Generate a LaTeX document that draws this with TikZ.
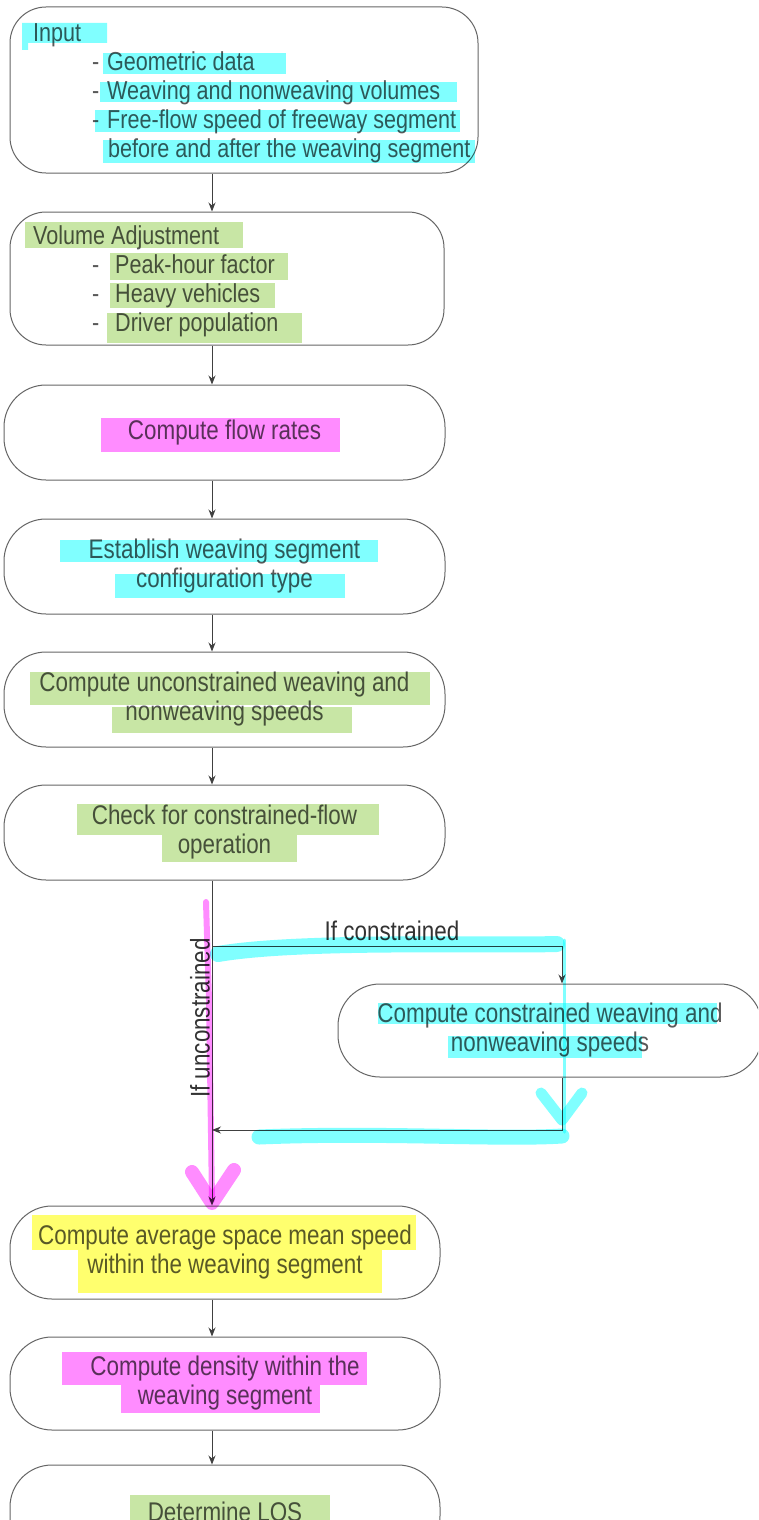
\documentclass[tikz,border=0pt]{standalone}
\usepackage{fontspec}
\setmainfont{Liberation Sans}[FakeStretch=0.83]
\usetikzlibrary{arrows.meta}

\definecolor{hlcyan}{RGB}{128,255,255}
\definecolor{hlgreen}{RGB}{200,230,165}
\definecolor{hlpink}{RGB}{255,140,255}
\definecolor{hlyellow}{RGB}{255,255,110}

\newcommand{\itemA}[1]{\hspace*{59pt}\makebox[15pt][l]{-}#1}
\newcommand{\itemB}[1]{\hspace*{59pt}\makebox[23pt][l]{-}#1}

\tikzset{
  boxtext/.style={text=black!65, font=\fontsize{27}{29}\selectfont},
  stepbox/.style={boxtext, draw=black!60, line width=1pt, rounded corners=42pt,
    minimum width=441pt, minimum height=95pt, align=center, inner sep=0pt},
  listbox/.style={draw=black!60, line width=1pt, rounded corners=36pt, inner sep=0pt},
  listtext/.style={text=black!65, font=\fontsize{26}{29}\selectfont, align=left, anchor=west, inner sep=0pt},
  flowline/.style={draw=black!75, line width=0.9pt},
  flowarrow/.style={flowline, -{Stealth[length=9pt,width=7pt]}},
  hl/.style={blend mode=multiply},
  scribble/.style={line width=#1, line cap=round, line join=round, blend mode=multiply}
}

\begin{document}
\begin{tikzpicture}[x=1pt,y=-1pt]
\clip (0,0) rectangle (758,1520);
\fill[white] (0,0) rectangle (758,1520);

% boxes
\node[listbox, minimum width=468pt, minimum height=166pt] (input) at (244,90) {};
\node[listtext] (inputtext) at (33,93)
  {Input\\ \itemA{Geometric data}\\ \itemA{Weaving and nonweaving volumes}\\
   \itemA{Free-flow speed of freeway segment}\\ \hspace*{75pt}before and after the weaving segment};
\node[listbox, minimum width=434pt, minimum height=133pt] (volume) at (227,278.5) {};
\node[listtext] (volumetext) at (33,281)
  {Volume Adjustment\\ \itemB{Peak-hour factor}\\ \itemB{Heavy vehicles}\\ \itemB{Driver population}};
\node[stepbox] (flow) at (224.5,432.5) {Compute flow rates};
\node[stepbox] (config) at (224.5,566.5) {Establish weaving segment\\ configuration type};
\node[stepbox] (uncon) at (224.5,699.5) {Compute unconstrained weaving and\\ nonweaving speeds};
\node[stepbox] (check) at (224.5,832.5) {Check for constrained-flow\\ operation};
\node[stepbox, minimum width=424pt, minimum height=93pt] (con) at (550,1030.5)
  {Compute constrained weaving and\\ nonweaving speeds};
\node[stepbox, minimum width=430pt, minimum height=93pt] (avg) at (225,1252.5)
  {Compute average space mean speed\\ within the weaving segment};
\node[stepbox, minimum width=430pt, minimum height=93pt] (dens) at (225,1383.5)
  {Compute density within the\\ weaving segment};
\node[stepbox, minimum width=430pt, minimum height=93pt] (los) at (225,1511.5)
  {Determine LOS};

% connectors
\coordinate (spine) at (212,0);
\coordinate (conx) at (562,0);
\coordinate (split) at (212,946);
\coordinate (merge) at (212,1130);
\foreach \a/\b in {input/volume,volume/flow,flow/config,config/uncon,uncon/check,check/avg,avg/dens,dens/los}
  \draw[flowarrow] (\a.south -| spine) -- (\b.north -| spine);
\draw[flowarrow] (split) -| (con.north -| conx);
\draw[flowarrow] (con.south -| conx) |- (merge);
\node[boxtext, text=black!80, anchor=south] (iflabel) at (392,944) {If constrained};
\node[boxtext, text=black!80, rotate=90] (unlabel) at (200,1018) {If unconstrained};

% highlighter marks
\fill[hlcyan, hl] (22,23) rectangle (107,43) (22,23) rectangle (28,50);
\fill[hlcyan, hl] (103,53) rectangle (286,74);
\fill[hlcyan, hl] (100,82) rectangle (457,102);
\fill[hlcyan, hl] (95,110) rectangle (460,132);
\fill[hlcyan, hl] (103,140) rectangle (475,163);
\fill[hlgreen, hl] (25,222) rectangle (243,248);
\fill[hlgreen, hl] (110,253) rectangle (288,280);
\fill[hlgreen, hl] (110,283) rectangle (275,308);
\fill[hlgreen, hl] (107,313) rectangle (302,343);
\fill[hlpink, hl] (101,418) rectangle (340,452);
\fill[hlcyan, hl] (60,540) rectangle (378,562);
\fill[hlcyan, hl] (115,574) rectangle (345,598);
\fill[hlgreen, hl] (30,672) rectangle (430,705);
\fill[hlgreen, hl] (112,707) rectangle (352,733);
\fill[hlgreen, hl] (77,804) rectangle (379,835);
\fill[hlgreen, hl] (162,835) rectangle (297,862);
\fill[hlcyan, hl] (378,1003) rectangle (717,1024);
\fill[hlcyan, hl] (448,1036) rectangle (642,1058);
\fill[hlyellow, hl] (32,1215) rectangle (416,1250);
\fill[hlyellow, hl] (78,1250) rectangle (382,1293);
\fill[hlpink, hl] (62,1352) rectangle (367,1385);
\fill[hlpink, hl] (121,1385) rectangle (320,1413);
\fill[hlgreen, hl] (130,1495) rectangle (330,1520);

% scribbles along the branches
\draw[hlcyan, scribble=16pt] (218,954) .. controls (300,940) and (480,946) .. (557,944);
\draw[hlcyan, scribble=3pt] (564,940) -- (564,1132);
\draw[hlcyan, scribble=11pt] (541,1093) -- (562,1120) -- (582,1093);
\draw[hlcyan, scribble=15pt] (259,1137) .. controls (380,1132) and (500,1140) .. (562,1136);
\draw[hlpink, scribble=6pt] (206,902) -- (209,1000) -- (212,1200);
\draw[hlpink, scribble=14pt] (192,1172) -- (212,1203) -- (234,1170);
\end{tikzpicture}
\end{document}
